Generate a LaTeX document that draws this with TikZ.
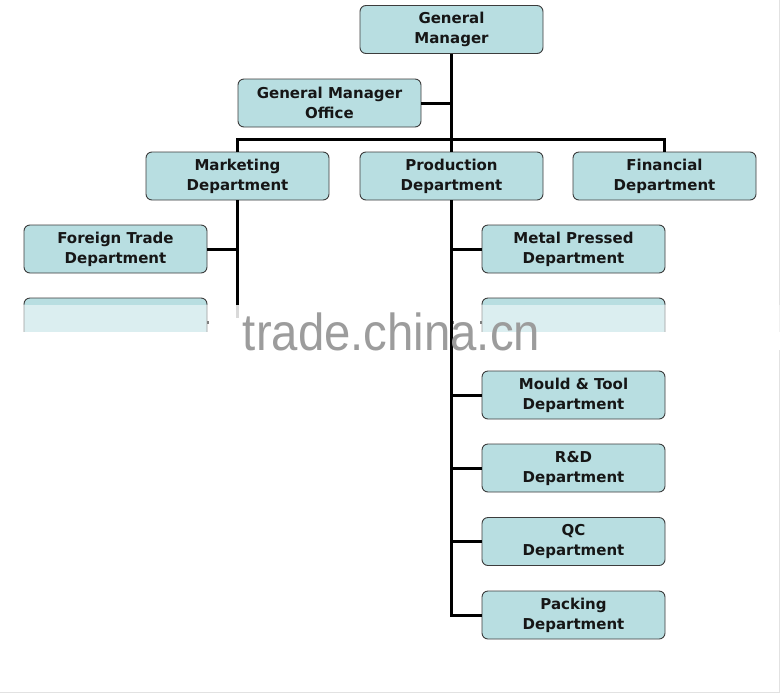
\documentclass[tikz,border=0pt]{standalone}
\usepackage{fontspec}
\setmainfont{DejaVu Sans}
\newfontfamily\wmfont{Liberation Sans}
\usepackage{tikz}
\usetikzlibrary{positioning,calc}
\usepackage{xcolor}
\definecolor{ink}{HTML}{161616}
\definecolor{boxfill}{HTML}{B8DEE1}
\definecolor{boxline}{HTML}{3C3C3C}
\definecolor{wmgray}{HTML}{9C9C9C}
\definecolor{edge}{HTML}{E2E2E2}

\tikzset{
  dept/.style={draw=boxline,line width=0.9pt,fill=boxfill,rounded corners=6pt,
    minimum width=183pt,minimum height=48pt,inner sep=0pt,align=center,
    font=\fontsize{15}{20}\selectfont\bfseries,text=ink},
  link/.style={draw=black,line width=3pt}
}

\begin{document}
\begin{tikzpicture}[x=1pt,y=-1pt]
  \useasboundingbox (0,0) rectangle (781,694);
  \fill[white] (0,0) rectangle (781,694);
  \draw[edge,line width=1pt] (779,0) -- (779,692) -- (0,692);

  % --- Direccion ---
  \node[dept] (gm)  at (451.5,29.5) {General\\Manager};
  \node[dept] (gmo) at (329.5,103)  {General Manager\\Office};

  % --- Departamentos ---
  \node[dept] (mkt)  at (237.5,176) {Marketing\\Department};
  \node[dept] (prod) at (451.5,176) {Production\\Department};
  \node[dept] (fin)  at (664.5,176) {Financial\\Department};

  \node[dept] (ftd)  at (115.5,249) {Foreign Trade\\Department};
  \node[dept] (hidl) at (115.5,322) {};

  \node[dept] (metal) at (573.5,249) {Metal Pressed\\Department};
  \node[dept] (hidr)  at (573.5,322) {};
  \node[dept] (mould) at (573.5,395) {Mould \& Tool\\Department};
  \node[dept] (rnd)   at (573.5,468) {R\&D\\Department};
  \node[dept] (qc)    at (573.5,541.5) {QC\\Department};
  \node[dept] (pack)  at (573.5,615) {Packing\\Department};

  % --- Lineas ---
  \coordinate (bus) at (451.5,139);
  \draw[link] (mkt.north) |- (bus) -| (fin.north);
  \draw[link] (gm.south) -- (prod.north);
  \draw[link] (gmo.east) -- (gmo.east -| gm.south);
  \draw[link] (mkt.south) |- (hidl.east);
  \draw[link] (ftd.east) -- (ftd.east -| mkt.south);
  \draw[link] (hidr.west) -- (hidr.west -| prod.south);

  % --- Franja de la marca de agua ---
  \fill[white,opacity=0.5] (15,305) rectangle (781,332);
  \fill[white,opacity=0.7] (209,305) rectangle (449,318);
  \fill[white] (209,318) rectangle (449,348);
  \fill[white] (454,305) rectangle (480,348);
  \fill[white] (15,332) rectangle (781,350);

  \draw[link] (prod.south) |- (pack.west);
  \foreach \d in {metal,mould,rnd,qc}
    \draw[link] (\d.west) -- (\d.west -| prod.south);

  \node[font=\wmfont\fontsize{52}{52}\selectfont,text=wmgray,xscale=0.91,
    anchor=base,inner sep=0pt] (wm) at (391.5,350) {trade.china.cn};
\end{tikzpicture}
\end{document}
